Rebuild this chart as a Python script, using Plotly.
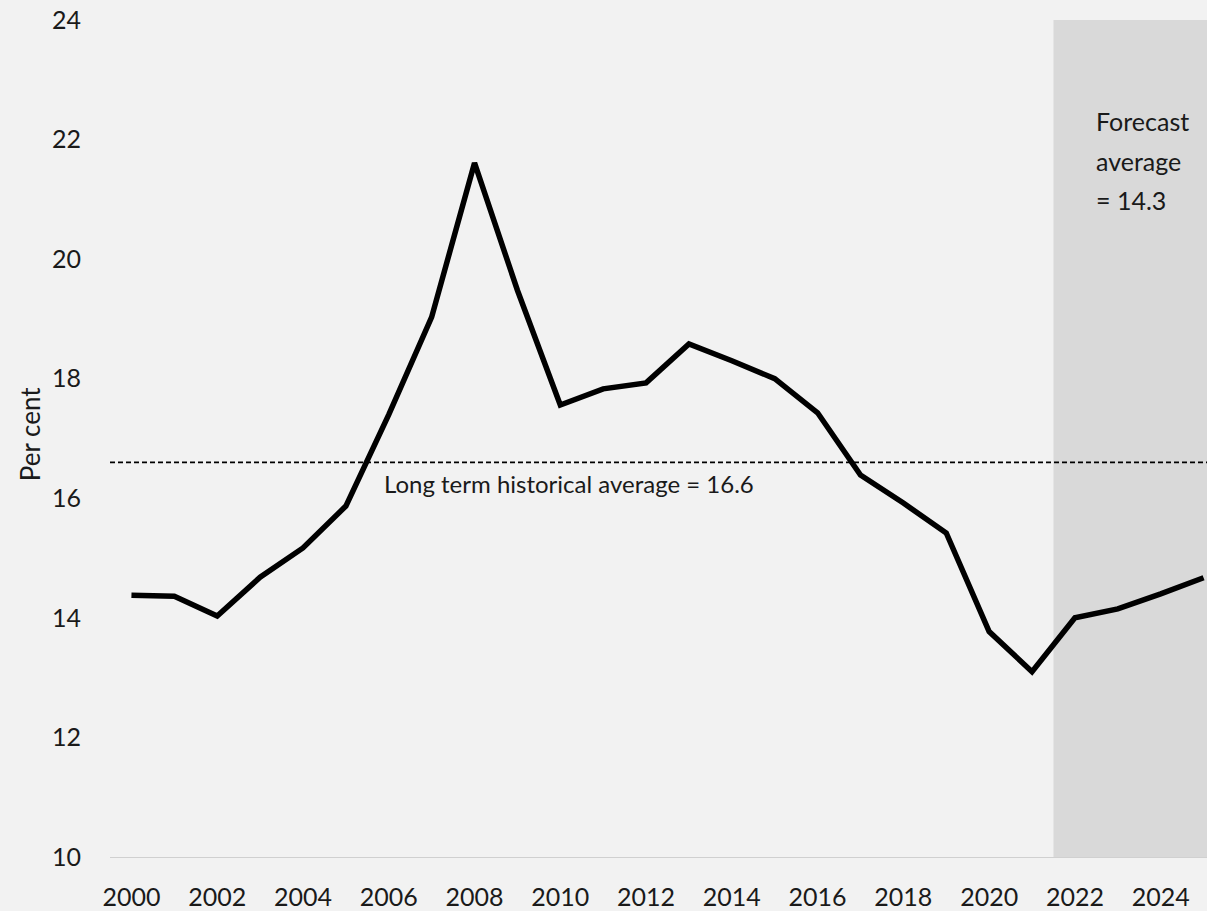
import plotly.graph_objects as go

# Annual series, per cent
years = list(range(2000, 2026))
values = [14.38, 14.36, 14.03, 14.68, 15.17, 15.87, 17.40, 19.03, 21.61, 19.48,
          17.56, 17.83, 17.93, 18.58, 18.30, 18.00, 17.43, 16.39, 15.92, 15.42,
          13.77, 13.10, 14.00, 14.15, 14.40, 14.67]

forecast_start = 2022
historical_average = 16.6

x_ticks = list(range(2000, 2025, 2))
y_ticks = [10, 12, 14, 16, 18, 20, 22, 24]

forecast_vals = [v for y, v in zip(years, values) if y >= forecast_start]
forecast_average = sum(forecast_vals) / len(forecast_vals)

FONT = "Lato"
TEXT = "#1a1a1a"
BG = "#f2f2f2"

fig = go.Figure()

fig.add_trace(go.Scatter(
    x=years, y=values, mode="lines",
    line=dict(color="black", width=5.5),
    showlegend=False, hoverinfo="skip",
))

# Shaded forecast period
fig.add_shape(type="rect", xref="x", yref="y",
              x0=forecast_start - 0.5, x1=years[-1] + 0.5, y0=10, y1=24,
              fillcolor="#d9d9d9", line=dict(width=0), layer="below")

# Long-term average reference line
fig.add_shape(type="line", xref="paper", yref="y",
              x0=0, x1=1, y0=historical_average, y1=historical_average,
              line=dict(color="black", width=1.8, dash="5px,3px"))

fig.add_annotation(x=2005.85, y=historical_average - 0.36, xref="x", yref="y",
                   text=f"Long term historical average = {historical_average:.1f}",
                   showarrow=False, xanchor="left", yanchor="middle",
                   font=dict(family=FONT, size=24, color=TEXT))

for i, line in enumerate(["Forecast", "average", f"= {forecast_average:.1f}"]):
    fig.add_annotation(x=2022.45, y=22.31 - i * 0.66, xref="x", yref="y",
                       text=line, showarrow=False, xanchor="left", yanchor="middle",
                       font=dict(family=FONT, size=25, color=TEXT))

fig.add_annotation(x=-0.073, y=0.505, xref="paper", yref="paper",
                   text="Per cent", textangle=-90, showarrow=False,
                   xanchor="center", yanchor="middle",
                   font=dict(family=FONT, size=26, color=TEXT))

fig.update_layout(
    width=1207, height=911,
    margin=dict(l=110, r=0, t=20, b=54),
    paper_bgcolor=BG, plot_bgcolor=BG,
    font=dict(family=FONT, size=25, color=TEXT),
    xaxis=dict(range=[1999.5, 2025.08], tickvals=x_ticks,
               ticktext=[str(t) for t in x_ticks],
               showgrid=False, zeroline=False, showline=True,
               linecolor="#d0d0d0", linewidth=1, ticks="",
               ticklabelstandoff=18),
    yaxis=dict(range=[10, 24], tickvals=y_ticks,
               showgrid=False, zeroline=False, showline=False, ticks="",
               ticklabelstandoff=28),
)

fig.write_html("out.html")
